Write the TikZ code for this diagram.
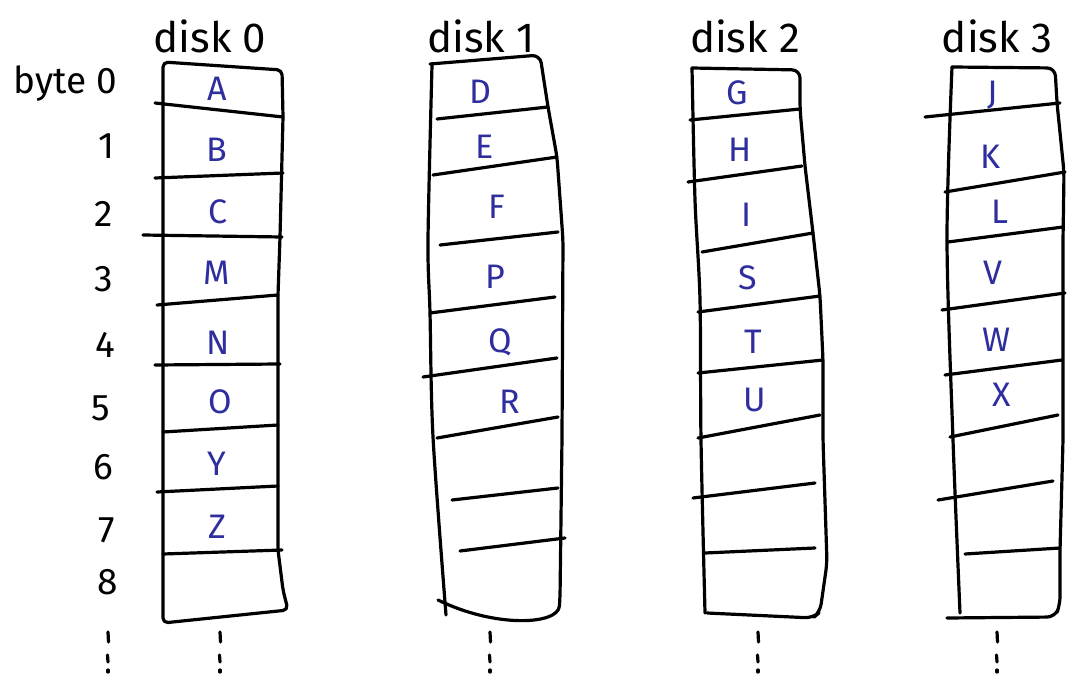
\documentclass[tikz,border=0pt]{standalone}
\usepackage{fontspec}
\setmainfont{Fira Sans}
\definecolor{ink}{HTML}{2E2E9E}
\tikzset{
  pen/.style={line width=3.2pt, line cap=round, line join=round, black},
  title/.style={font=\fontsize{42}{42}\selectfont, inner sep=0pt},
  rowlab/.style={font=\fontsize{37}{37}\selectfont, inner sep=0pt},
  cell/.style={font=\fontsize{34}{34}\selectfont, text=ink, inner sep=0pt},
  dot/.style={line width=3.2pt, line cap=round, black}
}
\begin{document}
\begin{tikzpicture}[x=1pt,y=-1pt]
\useasboundingbox (0,0) rectangle (1067,676);
\fill[white] (0,0) rectangle (1067,676);

% titles
\node[title] (t0) at (210,36) {disk 0};
\node[title] (t1) at (481,36) {disk 1};
\node[title] (t2) at (745,36) {disk 2};
\node[title] (t3) at (997,36) {disk 3};

% row labels
\node[rowlab] (b0) at (65,84) {byte 0};
\node[rowlab] (b1) at (107,146) {1};
\node[rowlab] (b2) at (104,214) {2};
\node[rowlab] (b3) at (104,279) {3};
\node[rowlab] (b4) at (105,345) {4};
\node[rowlab] (b5) at (101,408) {5};
\node[rowlab] (b6) at (103,467) {6};
\node[rowlab] (b7) at (107,530) {7};
\node[rowlab] (b8) at (108,582) {8};

% ---------- disk 0 ----------
\draw[pen, rounded corners=5pt] (163,623) -- (163,62) -- (282,70) -- (283,117) -- (280,237) -- (278,295) -- (278,550) -- (283,590) -- (288,610) -- cycle;
\draw[pen] (155,103) -- (283,117);
\draw[pen] (155,178) -- (283,173);
\draw[pen] (143,235) -- (282,237);
\draw[pen] (157,305) -- (278,295);
\draw[pen] (155,365) -- (280,364);
\draw[pen] (163,432) -- (278,425);
\draw[pen] (157,492) -- (278,486);
\draw[pen] (163,554) -- (282,550);
\node[cell] (c0a) at (217,89) {A};
\node[cell] (c0b) at (217,150) {B};
\node[cell] (c0c) at (218,212) {C};
\node[cell] (c0m) at (217,273) {M};
\node[cell] (c0n) at (218,343) {N};
\node[cell] (c0o) at (220,402) {O};
\node[cell] (c0y) at (217,464) {Y};
\node[cell] (c0z) at (217,527) {Z};

% ---------- disk 1 ----------
\draw[pen] plot[smooth] coordinates {(432,65) (428,240) (430,313) (433,437) (446,615)};
\draw[pen, rounded corners=8pt] (430,64) -- (540,55) -- (548,107) -- (557,157) -- (563,240) -- (562,437) -- (560,598) .. controls (558,625) and (495,628) .. (438,600);
\draw[pen] (437,119) -- (548,107);
\draw[pen] (433,175) -- (557,157);
\draw[pen] (440,245) -- (558,232);
\draw[pen] (430,313) -- (555,297);
\draw[pen] (423,377) -- (557,358);
\draw[pen] (437,438) -- (558,417);
\draw[pen] (452,500) -- (558,488);
\draw[pen] (460,551) -- (565,538);
\node[cell] (c1d) at (480,92) {D};
\node[cell] (c1e) at (485,147) {E};
\node[cell] (c1f) at (497,207) {F};
\node[cell] (c1p) at (495,277) {P};
\node[cell] (c1q) at (500,342) {Q};
\node[cell] (c1r) at (510,402) {R};

% ---------- disk 2 ----------
\draw[pen] plot[smooth] coordinates {(692,68) (695,200) (700,300) (701,440) (705,613)};
\draw[pen, rounded corners=8pt] (692,68) -- (800,70) -- (800,109) -- (805,166) -- (813,233) -- (820,296) -- (823,360) -- (823,440) -- (827,563) -- (820,612) -- (813,618) -- (707,613);
\draw[pen] (690,120) -- (800,109);
\draw[pen] (688,182) -- (802,166);
\draw[pen] (702,252) -- (813,233);
\draw[pen] (698,312) -- (820,296);
\draw[pen] (698,373) -- (823,360);
\draw[pen] (698,438) -- (820,415);
\draw[pen] (693,498) -- (815,483);
\draw[pen] (705,553) -- (815,548);
\node[cell] (c2g) at (737,93) {G};
\node[cell] (c2h) at (740,150) {H};
\node[cell] (c2i) at (747,215) {I};
\node[cell] (c2s) at (748,278) {S};
\node[cell] (c2t) at (753,342) {T};
\node[cell] (c2u) at (755,400) {U};

% ---------- disk 3 ----------
\draw[pen] plot[smooth] coordinates {(952,67) (947,240) (953,440) (960,613)};
\draw[pen, rounded corners=8pt] (952,67) -- (1055,68) -- (1057,103) -- (1064,172) -- (1063,240) -- (1063,440) -- (1060,550) -- (1060,605) -- (1055,617) -- (947,618);
\draw[pen] (925,117) -- (1060,103);
\draw[pen] (945,192) -- (1065,172);
\draw[pen] (948,242) -- (1063,227);
\draw[pen] (942,310) -- (1065,293);
\draw[pen] (945,375) -- (1062,360);
\draw[pen] (950,437) -- (1058,415);
\draw[pen] (938,500) -- (1053,481);
\draw[pen] (965,554) -- (1060,548);
\node[cell] (c3j) at (993,95) {J};
\node[cell] (c3k) at (990,157) {K};
\node[cell] (c3l) at (1000,212) {L};
\node[cell] (c3v) at (993,273) {V};
\node[cell] (c3w) at (997,340) {W};
\node[cell] (c3x) at (1002,395) {X};

% ---------- continuation dots ----------
\foreach \x/\n in {108/r, 220/d0, 490/d1, 758/d2, 997/d3} {
  \coordinate (top\n) at (\x,636);
  \draw[dot] (\x,632) -- (\x+0.5,642);
  \draw[dot] (\x-0.5,655) -- (\x,662);
  \draw[dot] (\x,670) -- (\x,672);
}
\end{tikzpicture}
\end{document}
